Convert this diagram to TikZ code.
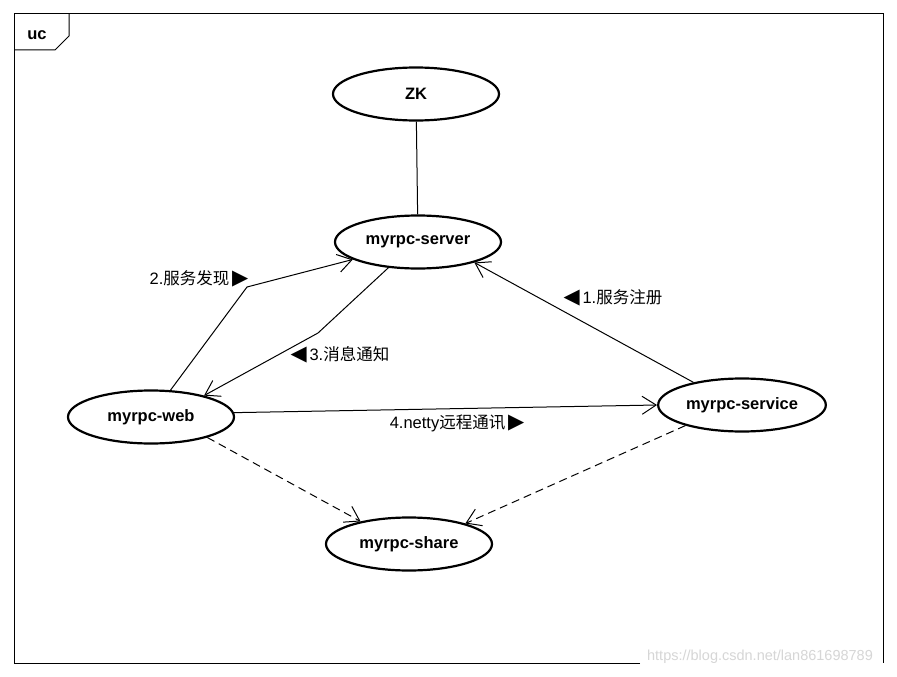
\documentclass[tikz,border=0pt]{standalone}
\usepackage{fontspec}
\setmainfont{Liberation Sans}
\newfontfamily\cjk{Noto Sans CJK SC}
\newfontfamily\symb{DejaVu Sans}
\newcommand{\tri}[1]{{\symb\fontsize{21}{21}\selectfont #1}}
\usetikzlibrary{shapes.geometric, arrows.meta}

\begin{document}
\begin{tikzpicture}[x=1pt, y=-1pt,
            usecase/.style={draw, ellipse, line width=2.2pt, minimum width=166pt, minimum height=53pt, font=\bfseries\fontsize{16.5}{19}\selectfont},
            lbl/.style={font=\fontsize{16.5}{18}\selectfont, inner sep=1pt},
            arrow/.style={line width=1pt, -{Straight Barb[length=14pt, width=18pt]}},
            dep/.style={arrow, dash pattern=on 8pt off 5pt}]
            \useasboundingbox (0,0) rectangle (897,677);
            \fill[white] (0,0) rectangle (897,677);

            % Frame
            \draw[line width=1pt] (640,663) -- (14,663) -- (14,14) -- (883,14) -- (883,663);
            \draw[line width=1pt] (14,50) -- (55,50) -- (69,36) -- (69,14);
            \node (uc) at (37,35) [font=\bfseries\fontsize{16.5}{19}\selectfont] {uc};

            % Use cases
            \node (zk) [usecase] at (416,94) {ZK};
            \node (server) [usecase] at (418,242) {myrpc-server};
            \node (web) [usecase] at (151,417) {myrpc-web};
            \node (service) [usecase] at (742,405) {myrpc-service};
            \node (share) [usecase] at (409,544) {myrpc-share};

            % Connections
            \draw [line width=1pt] (zk) -- (server);
            \draw [arrow] (web.54) -- (247,287) -- (server.195);
            \draw [arrow] (server.221) -- (318,333) -- (web.22);
            \draw [arrow] (service.155) -- (server.340);
            \draw [arrow] (web.3) -- (service.west);
            \draw [dep] (web.340) -- (share.155);
            \draw [dep] (service.200) -- (share.20);

            % Labels
            \node (l2) [lbl] at (199,279) {2.{\cjk 服务发现}\,\tri{▶}};
            \node (l3) [lbl] at (340,355) {\tri{◀}\,3.{\cjk 消息通知}};
            \node (l1) [lbl] at (613,298) {\tri{◀}\,1.{\cjk 服务注册}};
            \node (l4) [lbl] at (457,423) {4.netty{\cjk 远程通讯}\,\tri{▶}};

            % Watermark
            \node (mark) at (760,657) [inner sep=1pt, text=black!16, font=\fontsize{14.5}{16}\selectfont] {https://blog.csdn.net/lan861698789};
        \end{tikzpicture}
\end{document}
